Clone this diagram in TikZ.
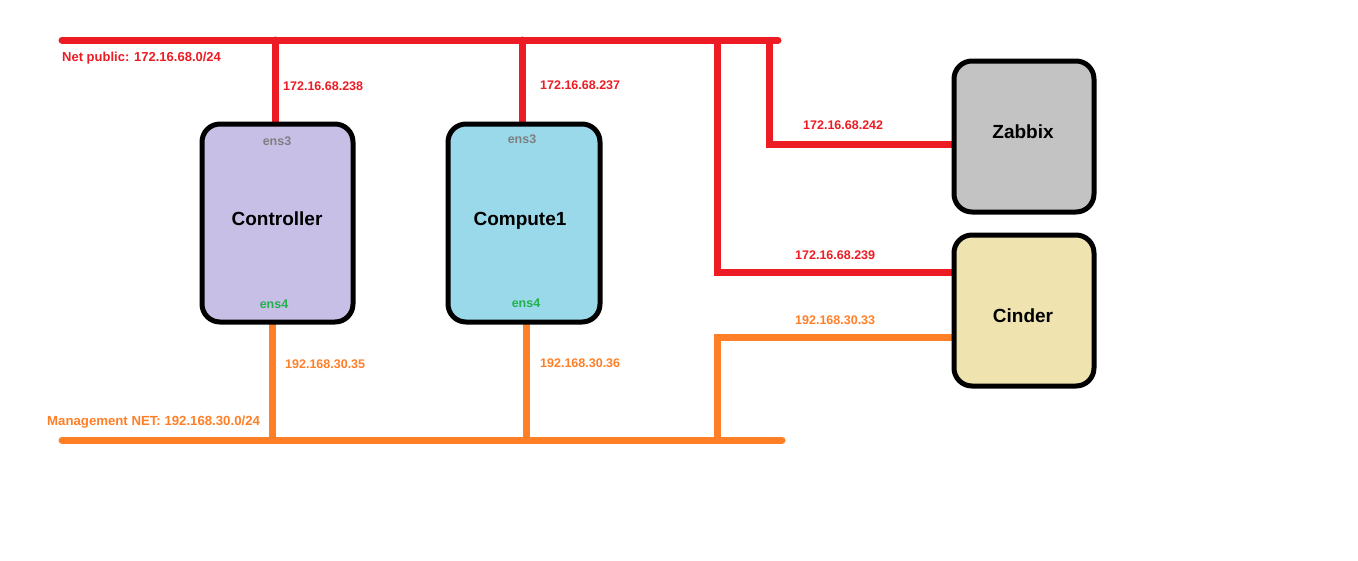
\documentclass[tikz,border=0pt]{standalone}
\usepackage{fontspec}
\setmainfont{Liberation Sans}
\definecolor{netred}{HTML}{ED1C24}
\definecolor{netorange}{HTML}{FF7F27}
\definecolor{ifgray}{HTML}{7F7F7F}
\definecolor{ifgreen}{HTML}{22B14C}
\definecolor{ctrlfill}{HTML}{C8BFE7}
\definecolor{compfill}{HTML}{99D9EA}
\definecolor{zabfill}{HTML}{C3C3C3}
\definecolor{cinfill}{HTML}{EFE4B0}
\begin{document}
\begin{tikzpicture}[x=1pt,y=-1pt,
  hostbox/.style={draw=black, line width=5pt, rounded corners=18pt, inner sep=0pt, outer sep=0pt},
  hostname/.style={font=\fontsize{19}{22}\selectfont\bfseries, text=black, inner sep=0pt},
  redline/.style={draw=netred, line width=7pt, line cap=round},
  orangeline/.style={draw=netorange, line width=7pt, line cap=round},
  redlbl/.style={text=netred, font=\fontsize{12.5}{14}\selectfont\bfseries, inner sep=0pt},
  orangelbl/.style={text=netorange, font=\fontsize{12.5}{14}\selectfont\bfseries, inner sep=0pt},
  iflbl/.style={font=\fontsize{12.5}{14}\selectfont\bfseries, inner sep=0pt}]
\useasboundingbox (0,0) rectangle (1358,560);
\fill[white] (0,0) rectangle (1358,560);

% buses
\coordinate (rbL) at (62,40);
\coordinate (rbR) at (778,40);
\coordinate (obL) at (62,440);
\coordinate (obR) at (782,440);

% host boxes (positions)
\path (277.5,223) node[hostbox, draw=none, minimum width=151pt, minimum height=198pt] (ctrl) {};
\path (524,223) node[hostbox, draw=none, minimum width=152pt, minimum height=198pt] (comp) {};
\path (1024,136.5) node[hostbox, draw=none, minimum width=140pt, minimum height=151pt] (zab) {};
\path (1024,310.5) node[hostbox, draw=none, minimum width=140pt, minimum height=151pt] (cin) {};

% tap coordinates
\coordinate (pc) at (275,40);
\coordinate (pp) at (522,40);
\coordinate (pd1) at (717,40);
\coordinate (pd2) at (769,40);
\coordinate (mc) at (272,440);
\coordinate (mp) at (526,440);
\coordinate (md) at (717,440);
\coordinate (zk) at (769,144);
\coordinate (ck) at (717,272);
\coordinate (mk) at (717,337);

% red network
\draw[redline] (rbL) -- (rbR);
\draw[redline] (pc) -- (pc |- ctrl.north);
\draw[redline] (pp) -- (pp |- comp.north);
\draw[redline, line cap=butt] (pd2) -- (zk) -- (zk -| zab.west);
\draw[redline, line cap=butt] (pd1) -- (ck) -- (ck -| cin.west);

% orange network
\draw[orangeline] (obL) -- (obR);
\draw[orangeline] (mc) -- (mc |- ctrl.south);
\draw[orangeline] (mp) -- (mp |- comp.south);
\draw[orangeline] (md) -- (mk) -- (mk -| cin.west);

% hosts drawn on top of the stubs
\draw[hostbox, fill=ctrlfill] (ctrl.south west) rectangle (ctrl.north east);
\draw[hostbox, fill=compfill] (comp.south west) rectangle (comp.north east);
\draw[hostbox, fill=zabfill] (zab.south west) rectangle (zab.north east);
\draw[hostbox, fill=cinfill] (cin.south west) rectangle (cin.north east);

\node[hostname] (ctrlname) at (277,219) {Controller};
\node[hostname] (compname) at (520,221) {Compute1};
\node[hostname] (zabname) at (1023,132) {Zabbix};
\node[hostname] (cinname) at (1023,316) {Cinder};

% interface labels
\node[iflbl, text=ifgray] (c3) at (277,141) {ens3};
\node[iflbl, text=ifgray] (p3) at (522,139) {ens3};
\node[iflbl, text=ifgreen] (c4) at (274,304) {ens4};
\node[iflbl, text=ifgreen] (p4) at (526,303) {ens4};

% network labels
\node[redlbl, anchor=west, font=\fontsize{13}{15}\selectfont\bfseries] (netpub) at (62,58) {Net public: 172.16.68.0/24};
\node[redlbl, anchor=west] (ipc) at (283,86) {172.16.68.238};
\node[redlbl, anchor=west] (ipp) at (540,85) {172.16.68.237};
\node[redlbl, anchor=west] (ipz) at (803,125) {172.16.68.242};
\node[redlbl, anchor=west] (ipcin) at (795,255) {172.16.68.239};
\node[orangelbl, anchor=west] (mipcin) at (795,320) {192.168.30.33};
\node[orangelbl, anchor=west] (mipc) at (285,364) {192.168.30.35};
\node[orangelbl, anchor=west] (mipp) at (540,363) {192.168.30.36};
\node[orangelbl, anchor=west, font=\fontsize{13.2}{15}\selectfont\bfseries] (mgmt) at (47,422) {Management NET: 192.168.30.0/24};
\end{tikzpicture}
\end{document}
